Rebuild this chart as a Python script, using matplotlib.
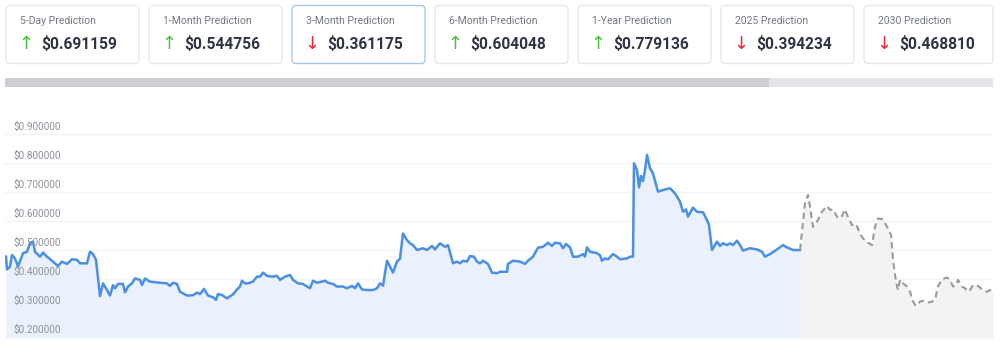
import matplotlib
matplotlib.use("Agg")
import matplotlib.pyplot as plt
from matplotlib.patches import FancyBboxPatch, Rectangle

plt.rcParams['font.family'] = ['Roboto', 'DejaVu Sans']

# prediction cards
card_titles = ['5-Day Prediction', '1-Month Prediction', '3-Month Prediction',
               '6-Month Prediction', '1-Year Prediction', '2025 Prediction',
               '2030 Prediction']
card_values = ['$0.691159', '$0.544756', '$0.361175', '$0.604048',
               '$0.779136', '$0.394234', '$0.468810']
card_up = [True, True, False, True, True, False, False]
selected_card = 2

# price history (day index, price)
hist_days = [0, 1, 4, 6, 9, 12, 17, 21, 24, 27, 29, 34, 37, 41, 47, 52, 56, 61,
             66, 71, 74, 81, 84, 87, 90, 94, 97, 101, 104, 107, 109, 112, 117,
             119, 122, 126, 129, 134, 136, 139, 144, 154, 161, 164, 167, 171,
             174, 181, 187, 191, 194, 198, 202, 207, 210, 212, 216, 221, 227,
             231, 234, 236, 239, 242, 247, 251, 254, 257, 261, 266, 271, 274,
             279, 284, 287, 292, 297, 301, 304, 307, 311, 316, 319, 322, 327,
             331, 337, 341, 346, 349, 352, 356, 361, 367, 371, 374, 377, 381,
             384, 387, 391, 394, 397, 401, 404, 407, 411, 417, 421, 426, 429,
             434, 439, 442, 447, 451, 454, 457, 461, 464, 468, 471, 474, 477,
             482, 486, 491, 494, 501, 502, 507, 514, 519, 522, 527, 532, 537,
             542, 546, 549, 554, 557, 560, 564, 567, 572, 577, 579, 581, 584,
             591, 594, 596, 599, 602, 607, 611, 614, 621, 624, 627, 628, 631,
             633, 635, 637, 639, 641, 644, 647, 652, 657, 664, 669, 674, 677,
             680, 682, 687, 691, 697, 701, 703, 706, 711, 714, 717, 721, 724,
             727, 731, 734, 737, 744, 751, 756, 759, 764, 771, 777, 781, 787,
             794]
hist_price = [0.477, 0.433, 0.443, 0.483, 0.471, 0.443, 0.489, 0.494, 0.523,
              0.529, 0.494, 0.477, 0.491, 0.477, 0.460, 0.445, 0.460, 0.452,
              0.468, 0.466, 0.454, 0.454, 0.494, 0.486, 0.466, 0.341, 0.385,
              0.362, 0.343, 0.379, 0.368, 0.383, 0.383, 0.354, 0.374, 0.385,
              0.402, 0.397, 0.379, 0.402, 0.391, 0.387, 0.385, 0.376, 0.387,
              0.383, 0.356, 0.343, 0.344, 0.353, 0.348, 0.366, 0.343, 0.337,
              0.328, 0.348, 0.345, 0.333, 0.347, 0.364, 0.374, 0.394, 0.385,
              0.385, 0.391, 0.408, 0.408, 0.422, 0.411, 0.408, 0.411, 0.397,
              0.408, 0.414, 0.397, 0.385, 0.383, 0.374, 0.368, 0.394, 0.387,
              0.391, 0.394, 0.387, 0.383, 0.374, 0.374, 0.368, 0.376, 0.368,
              0.385, 0.364, 0.362, 0.362, 0.368, 0.385, 0.377, 0.463, 0.443,
              0.422, 0.460, 0.470, 0.557, 0.534, 0.523, 0.517, 0.500, 0.506,
              0.500, 0.514, 0.502, 0.523, 0.511, 0.517, 0.454, 0.460, 0.454,
              0.463, 0.460, 0.479, 0.477, 0.460, 0.454, 0.463, 0.452, 0.422,
              0.420, 0.425, 0.425, 0.452, 0.463, 0.460, 0.452, 0.463, 0.477,
              0.508, 0.511, 0.525, 0.514, 0.525, 0.523, 0.506, 0.521, 0.509,
              0.477, 0.477, 0.486, 0.477, 0.509, 0.494, 0.489, 0.482, 0.463,
              0.471, 0.468, 0.486, 0.477, 0.468, 0.471, 0.477, 0.477, 0.799,
              0.776, 0.716, 0.755, 0.738, 0.776, 0.828, 0.782, 0.764, 0.701,
              0.707, 0.713, 0.695, 0.667, 0.632, 0.640, 0.615, 0.646, 0.632,
              0.630, 0.603, 0.586, 0.500, 0.529, 0.514, 0.523, 0.517, 0.523,
              0.517, 0.532, 0.517, 0.498, 0.506, 0.502, 0.494, 0.477, 0.486,
              0.502, 0.517, 0.509, 0.500, 0.500]

# forecast (day index, price)
fc_days = [794, 799, 802, 804, 807, 811, 816, 821, 824, 827, 832, 836, 839, 842,
           846, 850, 854, 857, 862, 866, 869, 872, 877, 881, 885, 887, 890,
           892, 894, 897, 901, 904, 907, 910, 914, 917, 921, 926, 929, 932,
           936, 941, 944, 947, 950, 952, 956, 959, 963, 967, 972, 977, 981,
           984, 987]
fc_price = [0.500, 0.661, 0.690, 0.649, 0.580, 0.598, 0.632, 0.652, 0.638,
            0.640, 0.609, 0.617, 0.640, 0.613, 0.586, 0.590, 0.557, 0.540,
            0.525, 0.517, 0.580, 0.609, 0.606, 0.580, 0.552, 0.466, 0.391,
            0.362, 0.397, 0.385, 0.374, 0.356, 0.322, 0.307, 0.322, 0.325,
            0.318, 0.322, 0.328, 0.374, 0.399, 0.405, 0.397, 0.374, 0.379,
            0.397, 0.374, 0.368, 0.356, 0.379, 0.376, 0.362, 0.356, 0.362,
            0.356]

y_ticks = [0.2, 0.3, 0.4, 0.5, 0.6, 0.7, 0.8, 0.9]

W, H = 1000, 342
fig = plt.figure(figsize=(W / 100, H / 100), dpi=100)

# pixel-space overlay for the cards and the scroll bar
bg = fig.add_axes([0, 0, 1, 1])
bg.set_xlim(0, W)
bg.set_ylim(H, 0)
bg.axis('off')

for i, (title, val, up) in enumerate(zip(card_titles, card_values, card_up)):
    x0 = 6 + i * 143
    w = min(133, 993 - x0)
    edge = '#a9c6ef' if i == selected_card else '#e6e7ea'
    bg.add_patch(FancyBboxPatch((x0, 5.5), w, 58, boxstyle='round,pad=0,rounding_size=4',
                                fc='white', ec=edge, lw=1))
    bg.text(x0 + 14, 21.5, title, fontsize=7.5, color='#737880', va='center')
    bg.text(x0 + 20, 44, '\u2191' if up else '\u2193', fontsize=13,
            color='#4cbf3f' if up else '#e8263a', va='center', ha='center',
            family=['DejaVu Sans'])
    bg.text(x0 + 35, 44, val, fontsize=11.2, color='#2f3440', va='center',
            fontweight='bold')

# scroll bar
bg.add_patch(Rectangle((5, 78), 988, 8.5, fc='#e4e5e9', lw=0))
bg.add_patch(Rectangle((5, 78), 764, 8.5, fc='#cdced3', lw=0))

# chart
ax = fig.add_axes([5 / W, 4 / H, 988 / W, 220 / H])
ybot = 0.2 - 1 / 290
ax.set_ylim(ybot, 0.9 + 16 / 290)
ax.set_xlim(hist_days[0] - 1, fc_days[-1])

for v in y_ticks:
    ax.axhline(v, color='#f3f4f6', lw=1, zorder=0)
    ax.annotate(f'${v:.6f}', xy=(0, v), xycoords=('axes fraction', 'data'),
                xytext=(9, 7), textcoords='offset pixels', fontsize=7.2,
                color='#8d9199', va='center', ha='left', zorder=5)

ax.fill_between(hist_days, hist_price, ybot, color='#eaf1fc', lw=0, zorder=1)
ax.plot(hist_days, hist_price, color='#4a90e2', lw=1.8, zorder=3)
ax.fill_between(fc_days, fc_price, ybot, color='#f3f3f3', lw=0, zorder=1)
ax.plot(fc_days, fc_price, color='#9a9a9a', lw=1.5, ls=(0, (3, 2)), zorder=3)

ax.set_xticks([])
ax.set_yticks([])
for s in ax.spines.values():
    s.set_visible(False)

fig.savefig('out.png', dpi=100)
